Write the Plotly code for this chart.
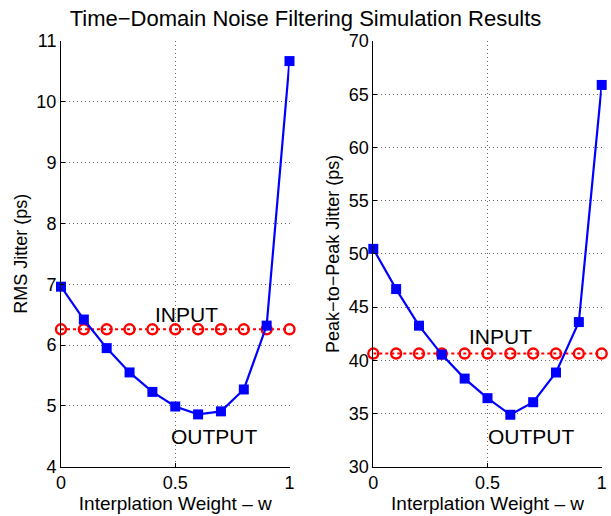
import plotly.graph_objects as go

w = [0, 0.1, 0.2, 0.3, 0.4, 0.5, 0.6, 0.7, 0.8, 0.9, 1.0]
rms_output = [6.96, 6.42, 5.95, 5.55, 5.23, 4.99, 4.86, 4.91, 5.27, 6.32, 10.67]
rms_input = [6.26] * 11
pp_output = [50.47, 46.69, 43.25, 40.53, 38.28, 36.44, 34.88, 36.06, 38.85, 43.59, 65.87]
pp_input = [40.63] * 11

x_ticks = [0, 0.5, 1]
x_ticklabels = ["0", "0.5", "1"]
rms_ticks = [4, 5, 6, 7, 8, 9, 10, 11]
pp_ticks = [30, 35, 40, 45, 50, 55, 60, 65, 70]

FONT = "Liberation Sans, Arial, Helvetica, sans-serif"
BLUE = "#0000ff"
RED = "#ff0000"
GRID = "rgba(0,0,0,0.6)"

fig = go.Figure()

# Left panel
fig.add_trace(go.Scatter(x=w, y=rms_input, mode="lines+markers",
                         line=dict(color=RED, width=2, dash="dot"),
                         marker=dict(symbol="circle-open", size=10, color=RED, line=dict(width=2.4)),
                         xaxis="x", yaxis="y", showlegend=False, cliponaxis=False))
fig.add_trace(go.Scatter(x=w, y=rms_output, mode="lines+markers",
                         line=dict(color=BLUE, width=2.2),
                         marker=dict(symbol="square", size=10, color=BLUE),
                         xaxis="x", yaxis="y", showlegend=False, cliponaxis=False))
# Right panel
fig.add_trace(go.Scatter(x=w, y=pp_input, mode="lines+markers",
                         line=dict(color=RED, width=2, dash="dot"),
                         marker=dict(symbol="circle-open", size=10, color=RED, line=dict(width=2.4)),
                         xaxis="x2", yaxis="y2", showlegend=False, cliponaxis=False))
fig.add_trace(go.Scatter(x=w, y=pp_output, mode="lines+markers",
                         line=dict(color=BLUE, width=2.2),
                         marker=dict(symbol="square", size=10, color=BLUE),
                         xaxis="x2", yaxis="y2", showlegend=False, cliponaxis=False))

W, H = 611, 516
ydom = [(H - 466.7) / H, (H - 41) / H]

common_x = dict(range=[0, 1], tickvals=x_ticks, ticktext=x_ticklabels, automargin=False,
                showgrid=True, gridcolor=GRID, griddash="1px,3px", gridwidth=1,
                zeroline=False, showline=True, linecolor="black", linewidth=1,
                ticks="inside", ticklen=4, tickcolor="black",
                tickfont=dict(size=18, color="black", family=FONT),
                title=dict(text="Interplation Weight \u2013 w", font=dict(size=19, color="black", family=FONT),
                           standoff=2))
common_y = dict(showgrid=True, gridcolor=GRID, griddash="1px,3px", gridwidth=1, automargin=False,
                zeroline=False, showline=True, linecolor="black", linewidth=1,
                ticks="inside", ticklen=4, tickcolor="black",
                tickfont=dict(size=18, color="black", family=FONT))

fig.update_layout(
    width=W, height=H,
    margin=dict(l=0, r=0, t=0, b=0, autoexpand=False),
    paper_bgcolor="white", plot_bgcolor="white",
    font=dict(family=FONT, color="black"),
    title=dict(text="Time\u2212Domain Noise Filtering Simulation Results",
               x=0.5, xanchor="center", y=(H - 18) / H, yanchor="middle",
               font=dict(size=22, color="black", family=FONT)),
    xaxis=dict(domain=[61 / W, 289.5 / W], anchor="y", **common_x),
    xaxis2=dict(domain=[373.3 / W, 601.7 / W], anchor="y2", **common_x),
    yaxis=dict(domain=ydom, anchor="x", range=[4, 11], tickvals=rms_ticks,
               title=dict(text="RMS Jitter (ps)", font=dict(size=18, color="black", family=FONT), standoff=4),
               **common_y),
    yaxis2=dict(domain=ydom, anchor="x2", range=[30, 70], tickvals=pp_ticks,
                title=dict(text="Peak\u2212to\u2212Peak Jitter (ps)", font=dict(size=18, color="black", family=FONT), standoff=4),
                **common_y),
    annotations=[
        dict(text="INPUT", x=0.55, y=6.51, xref="x", yref="y", showarrow=False,
             font=dict(size=21, color="black", family=FONT)),
        dict(text="OUTPUT", x=0.67, y=4.49, xref="x", yref="y", showarrow=False,
             font=dict(size=21, color="black", family=FONT)),
        dict(text="INPUT", x=0.555, y=42.25, xref="x2", yref="y2", showarrow=False,
             font=dict(size=21, color="black", family=FONT)),
        dict(text="OUTPUT", x=0.694, y=32.8, xref="x2", yref="y2", showarrow=False,
             font=dict(size=21, color="black", family=FONT)),
    ],
)

fig.write_html("out.html", config={"displayModeBar": False},
               post_script="document.body.style.margin='0';document.body.style.padding='0';")
